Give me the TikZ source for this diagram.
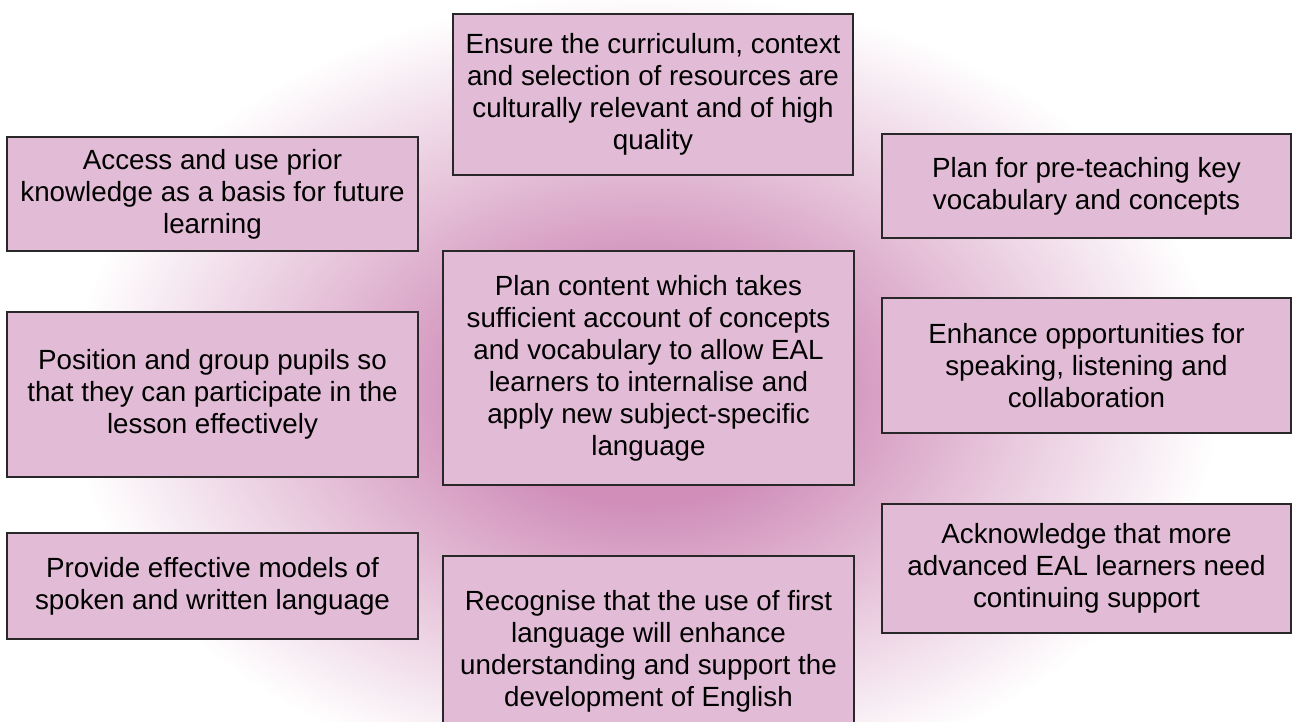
\documentclass[tikz,border=0pt]{standalone}
\usepackage{fontspec}
\setmainfont{Liberation Sans}
\usepackage{tikz}
\usetikzlibrary{positioning,shapes}
\definecolor{boxpink}{RGB}{226,188,214}
\definecolor{glowpink}{RGB}{208,142,185}
\definecolor{edgegrey}{RGB}{40,40,40}
\pgfdeclareradialshading{glow}{\pgfpoint{0bp}{0bp}}{color(0bp)=(glowpink); color(7bp)=(glowpink); color(15bp)=(glowpink!55!white); color(25bp)=(white); color(50bp)=(white)}

\begin{document}
\begin{tikzpicture}[x=0.02cm,y=-0.02cm,% one unit is one pixel of the 1292x722 page
		every node/.style={
			rectangle,draw=edgegrey,line width=0.7pt,fill=boxpink,
			align=center,  		% use this so that the "\\" for line break works
			inner sep=0pt,
			font=\fontsize{15.8}{18.2}\selectfont
		}
	]
	\useasboundingbox (0,0) rectangle (1292,722);
	\fill[white] (0,0) rectangle (1292,722);
	\shade[shading=glow] (645,392) ellipse [x radius=11.5cm, y radius=8cm];
	% centre column
	\node[minimum width=8cm,minimum height=3.22cm](B1) at (653,94.5){Ensure the curriculum, context\\ and selection of resources are\\ culturally relevant and of high\\ quality};
	\node[minimum width=8.22cm,minimum height=4.68cm](B0) at (648.5,368){Plan content which takes\\ sufficient account of concepts\\ and vocabulary to allow EAL\\ learners to internalise and\\ apply new subject-specific\\ language};
	\node[minimum width=8.22cm,minimum height=3.8cm](B8) at (648.5,651){Recognise that the use of first\\ language will enhance\\ understanding and support the\\ development of English};
	% left column
	\node[minimum width=8.22cm,minimum height=2.28cm](B2) at (212.5,194){Access and use prior\\ knowledge as a basis for future\\ learning};
	\node[minimum width=8.22cm,minimum height=3.3cm](B4) at (212.5,394.5){Position and group pupils so\\ that they can participate in the\\ lesson effectively};
	\node[minimum width=8.22cm,minimum height=2.12cm](B6) at (212.5,586){Provide effective models of\\ spoken and written language};
	% right column
	\node[minimum width=8.18cm,minimum height=2.08cm](B3) at (1086.5,186){Plan for pre-teaching key\\ vocabulary and concepts};
	\node[minimum width=8.18cm,minimum height=2.7cm](B5) at (1086.5,365.5){Enhance opportunities for\\ speaking, listening and\\ collaboration};
	\node[minimum width=8.18cm,minimum height=2.58cm](B7) at (1086.5,568.5){Acknowledge that more\\ advanced EAL learners need\\ continuing support};
\end{tikzpicture}
\end{document}
